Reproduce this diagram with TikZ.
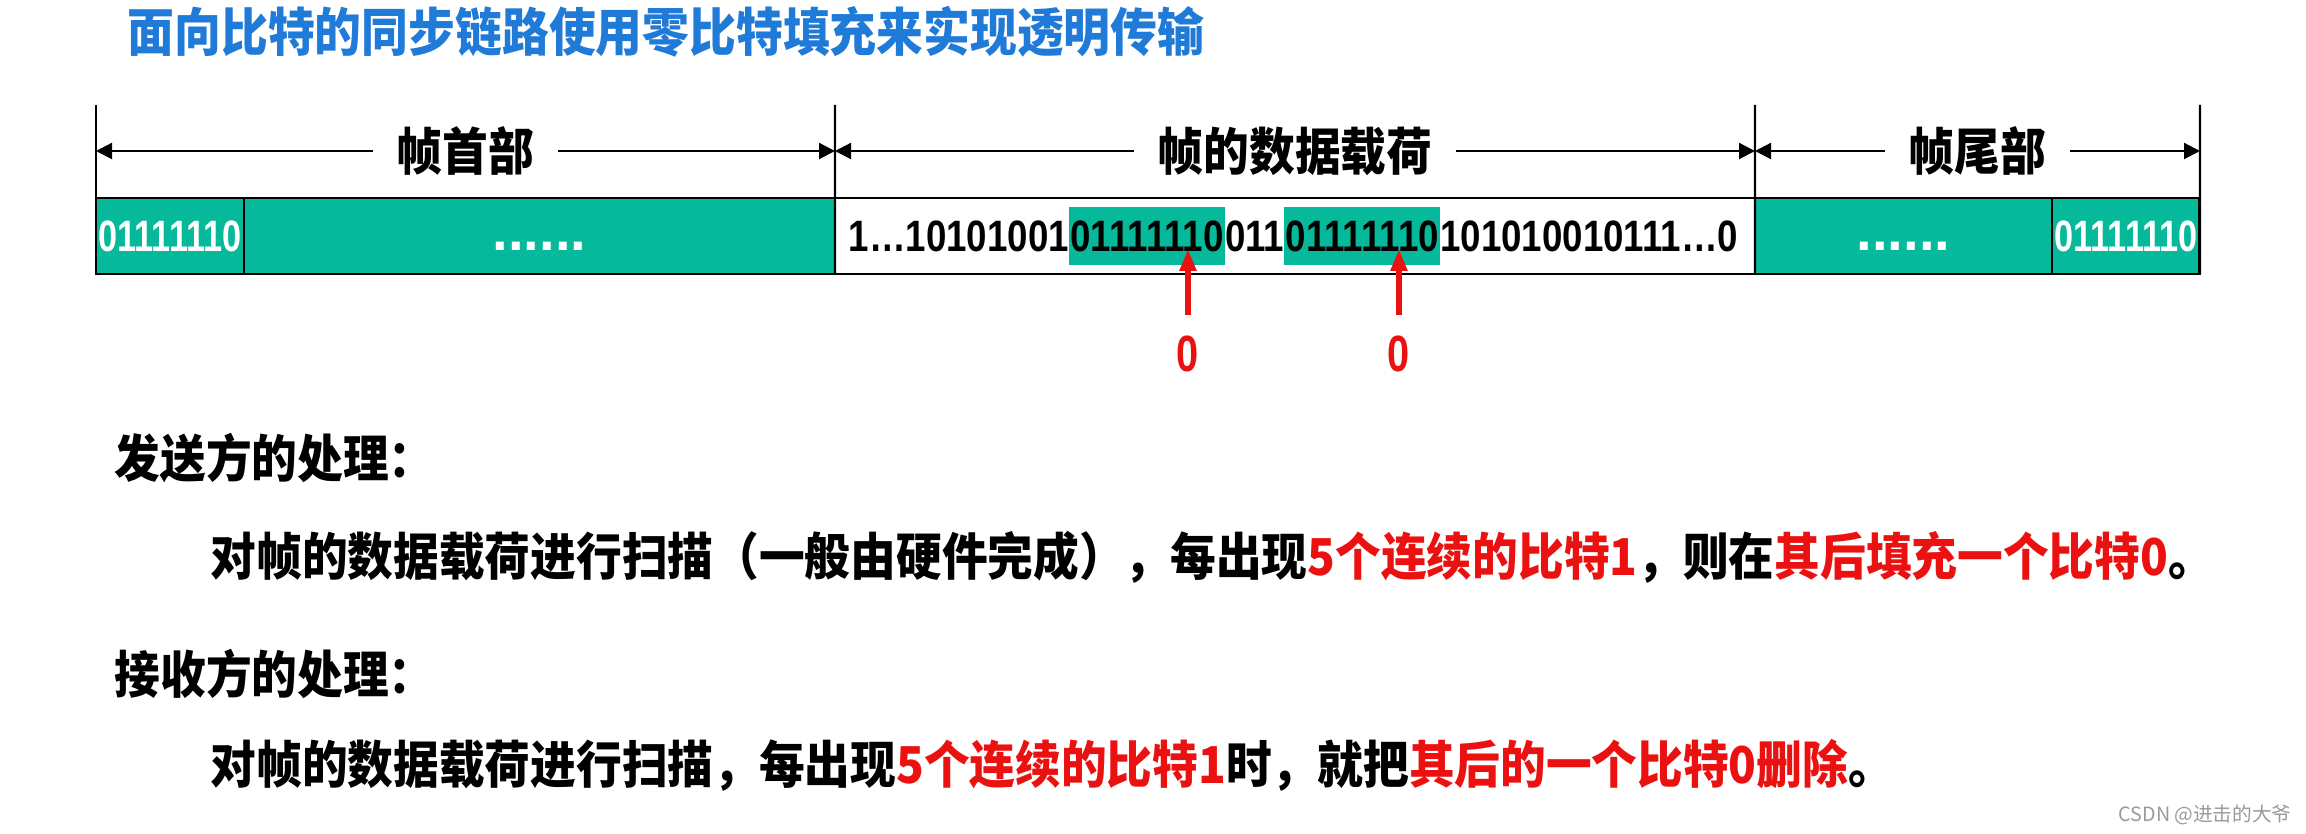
\documentclass[tikz,border=0pt]{standalone}
\usepackage{fontspec}
\usepackage{xcolor}
\usepackage{tikz}
\usetikzlibrary{positioning,arrows.meta}
\setmainfont{Noto Sans CJK SC}[FakeStretch=0.9]
\newfontfamily\bitfont{Liberation Sans}[FakeStretch=0.835]
\newfontfamily\flagfont{Liberation Sans}[FakeStretch=0.78]
\newfontfamily\dotfont{Liberation Sans}
\newfontfamily\markfont{Noto Sans CJK SC}
\definecolor{titleblue}{HTML}{1F7AD8}
\definecolor{flaggreen}{HTML}{06B99A}
\definecolor{stuffred}{HTML}{EC1111}
\definecolor{markgray}{HTML}{9A9A9A}

\begin{document}
\begin{tikzpicture}[x=0.1mm,y=-0.1mm,
   cn/.style={font=\bfseries\fontsize{14.45}{16}\selectfont,inner sep=0pt},
   field/.style={draw=black,line width=0.85pt,outer sep=0pt,inner sep=0pt,minimum height=7.6mm},
   flagbox/.style={field,fill=flaggreen,minimum width=14.8mm,text=white,
     font=\flagfont\bfseries\fontsize{12.5}{14}\selectfont},
   padbox/.style={field,fill=flaggreen,text=white,font=\dotfont\bfseries\fontsize{16}{18}\selectfont},
   bits/.style={inner sep=0pt,outer sep=0pt,minimum height=5.8mm,
     font=\bitfont\bfseries\fontsize{12.5}{14}\selectfont},
   hit/.style={bits,fill=flaggreen,inner xsep=0.15mm},
   ext/.style={line width=0.7pt},
   dim/.style={line width=0.6pt,{Triangle[length=1.6mm,width=1.6mm]}-{Triangle[length=1.6mm,width=1.6mm]}},
   dimlabel/.style={cn,fill=white,inner xsep=2.4mm,inner ysep=1mm},
   stuff/.style={draw=stuffred,line width=1.6pt,-{Triangle[length=2.2mm,width=1.6mm]}},
   zero/.style={inner sep=0pt,text=stuffred,font=\flagfont\bfseries\fontsize{14.5}{16}\selectfont}]
 \useasboundingbox (0,0) rectangle (2306,834);
 \node[cn,anchor=west,text=titleblue,font=\bfseries\fontsize{14.8}{16}\selectfont] (title) at (127,32)
   {面向比特的同步链路使用零比特填充来实现透明传输};
 \node[flagbox,anchor=north west] (hflag) at (96,198) {01111110};
 \node[padbox,minimum width=59.1mm,right=0pt of hflag] (hpad) {\rule{0pt}{3mm}......};
 \node[field,minimum width=92mm,fill=white,right=0pt of hpad] (load) {};
 \node[padbox,minimum width=29.7mm,right=0pt of load] (tpad) {\rule{0pt}{3mm}......};
 \node[flagbox,right=0pt of tpad] (tflag) {01111110};
 \node[hit,anchor=west] (g1) at (1069,236) {01111110};
 \node[bits,left=0pt of g1] (b1) {1…10101001};
 \node[bits,right=0pt of g1] (b2) {011};
 \node[hit,right=0pt of b2] (g2) {01111110};
 \node[bits,right=0pt of g2] (b3) {101010010111…0};
 \coordinate (e0) at (96,105);
 \coordinate (e1) at (835,105);
 \coordinate (e2) at (1755,105);
 \coordinate (e3) at (2200,105);
 \coordinate (d0) at (96,151);
 \coordinate (d1) at (835,151);
 \coordinate (d2) at (1755,151);
 \coordinate (d3) at (2200,151);
 \draw[ext] (e0) -- (hflag.south west);
 \draw[ext] (e1) -- (hpad.south east);
 \draw[ext] (e2) -- (load.south east);
 \draw[ext] (e3) -- (tflag.south east);
 \draw[dim] (d0) -- node[dimlabel]{帧首部} (d1);
 \draw[dim] (d1) -- node[dimlabel]{帧的数据载荷} (d2);
 \draw[dim] (d2) -- node[dimlabel]{帧尾部} (d3);
 \coordinate (s1) at (1188,249);
 \coordinate (s2) at (1399,249);
 \node[zero] (z1) at (1188,354) {0};
 \node[zero] (z2) at (1399,354) {0};
 \draw[stuff,shorten <=2mm] (z1.north) -- (s1);
 \draw[stuff,shorten <=2mm] (z2.north) -- (s2);
 \node[cn,anchor=west] (send) at (114,458) {发送方的处理：};
 \node[cn,anchor=west] (sendtxt) at (210,557) {对帧的数据载荷进行扫描（一般由硬件完成），每出现\textcolor{stuffred}{5个连续的比特1}，则在\textcolor{stuffred}{其后填充一个比特0}。};
 \node[cn,anchor=west] (recv) at (114,674) {接收方的处理：};
 \node[cn,anchor=west] (recvtxt) at (210,765) {对帧的数据载荷进行扫描，每出现\textcolor{stuffred}{5个连续的比特1}时，就把\textcolor{stuffred}{其后的一个比特0删除}。};
 \node[anchor=west,inner sep=0pt,text=markgray,font=\markfont\fontsize{5.6}{7}\selectfont] (mark) at (2118,815) {CSDN @进击的大爷};
\end{tikzpicture}
\end{document}
